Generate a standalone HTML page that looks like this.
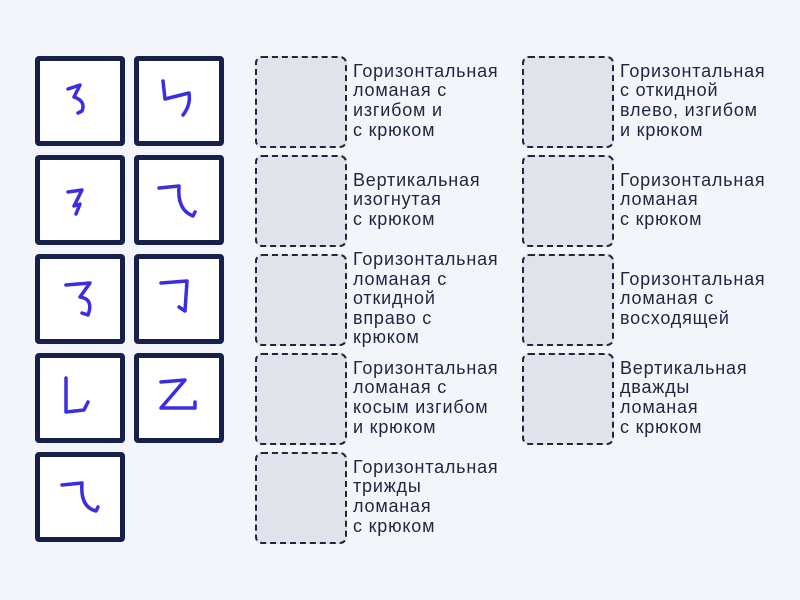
<!DOCTYPE html>
<html><head><meta charset="utf-8"><style>
body{margin:0;width:800px;height:600px;background:#f3f5fb;position:relative;overflow:hidden;font-family:"Liberation Sans",sans-serif}
.card{position:absolute;width:80px;height:80px;border:5px solid #17204a;border-radius:4px;background:#fff}
.card svg{width:80px;height:80px}
.card path{fill:none;stroke:#3a2ee0;stroke-width:3.5;stroke-linecap:round;stroke-linejoin:round}
.dz{position:absolute;width:88px;height:88px;border:2px dashed #1f2740;border-radius:7px;background:#e1e3ea;box-sizing:content-box}
.t{position:absolute;width:170px;height:90px;display:flex;align-items:center;font-size:18px;letter-spacing:0.8px;line-height:19.6px;color:#1f2740;white-space:nowrap}
</style></head><body>
<div class="card" style="left:35px;top:56px"><svg><path d="M28 28 L40 24 L34 36 Q46 40 42 50 L38 52"/></svg></div>
<div class="card" style="left:134px;top:56px"><svg><path d="M24 20 L26 38 L50 32 Q52 44 44 54"/></svg></div>
<div class="card" style="left:35px;top:155px"><svg><path d="M28 32 L42 30 L34 46 L40 44 L36 54"/></svg></div>
<div class="card" style="left:134px;top:155px"><svg><path d="M20 28 L40 26 Q38 50 54 56 L56 52"/></svg></div>
<div class="card" style="left:35px;top:254px"><svg><path d="M26 26 L50 24 L40 38 Q54 40 48 56 L42 54"/></svg></div>
<div class="card" style="left:134px;top:254px"><svg><path d="M22 24 L48 22 L46 52 L40 48"/></svg></div>
<div class="card" style="left:35px;top:353px"><svg><path d="M26 20 L26 54 L44 52 L48 44"/></svg></div>
<div class="card" style="left:134px;top:353px"><svg><path d="M22 24 L46 22 L22 50 L56 50 L56 44"/></svg></div>
<div class="card" style="left:35px;top:452px"><svg><path d="M22 28 L42 26 Q40 50 56 54 L58 50"/></svg></div>

<div class="dz" style="left:255px;top:56px"></div><div class="t" style="left:353px;top:56px">Горизонтальная<br>ломаная с<br>изгибом и<br>с крюком</div>
<div class="dz" style="left:255px;top:155px"></div><div class="t" style="left:353px;top:155px">Вертикальная<br>изогнутая<br>с крюком</div>
<div class="dz" style="left:255px;top:254px"></div><div class="t" style="left:353px;top:254px">Горизонтальная<br>ломаная с<br>откидной<br>вправо с<br>крюком</div>
<div class="dz" style="left:255px;top:353px"></div><div class="t" style="left:353px;top:353px">Горизонтальная<br>ломаная с<br>косым изгибом<br>и крюком</div>
<div class="dz" style="left:255px;top:452px"></div><div class="t" style="left:353px;top:452px">Горизонтальная<br>трижды<br>ломаная<br>с крюком</div>

<div class="dz" style="left:522px;top:56px"></div><div class="t" style="left:620px;top:56px">Горизонтальная<br>с откидной<br>влево, изгибом<br>и крюком</div>
<div class="dz" style="left:522px;top:155px"></div><div class="t" style="left:620px;top:155px">Горизонтальная<br>ломаная<br>с крюком</div>
<div class="dz" style="left:522px;top:254px"></div><div class="t" style="left:620px;top:254px">Горизонтальная<br>ломаная с<br>восходящей</div>
<div class="dz" style="left:522px;top:353px"></div><div class="t" style="left:620px;top:353px">Вертикальная<br>дважды<br>ломаная<br>с крюком</div>
</body></html>
